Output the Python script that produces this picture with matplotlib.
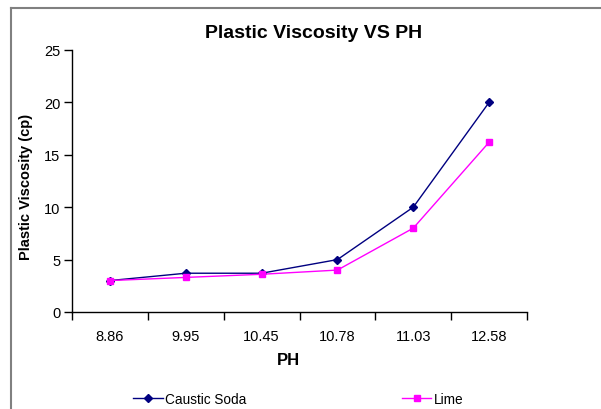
import matplotlib.pyplot as plt
from matplotlib.lines import Line2D

plt.rcParams['font.family'] = ['Liberation Sans', 'DejaVu Sans']

ph = ['8.86', '9.95', '10.45', '10.78', '11.03', '12.58']
caustic_soda = [3.0, 3.7, 3.7, 5.0, 10.0, 20.0]
lime = [3.0, 3.3, 3.6, 4.0, 8.0, 16.2]

fig = plt.figure(figsize=(6.01, 4.10), dpi=100)
ax = fig.add_axes([72 / 601, 1 - 313 / 410, 455 / 601, 262 / 410])

x = range(len(ph))
ax.plot(x, caustic_soda, color='#000080', marker='D', markersize=4.5, lw=1, label='Caustic Soda')
ax.plot(x, lime, color='#FF00FF', marker='s', markersize=5, lw=1, label='Lime')

ax.set_xlim(-0.5, len(ph) - 0.5)
ax.set_ylim(0, 25)
ax.set_yticks([0, 5, 10, 15, 20, 25])
ax.set_xticks([i - 0.5 for i in range(len(ph) + 1)])
ax.set_xticklabels([])
ax.set_xticks(list(x), minor=True)
ax.set_xticklabels(ph, minor=True)
ax.tick_params(axis='x', which='major', length=6, width=1, direction='out')
ax.tick_params(axis='x', which='minor', length=0, pad=12, labelsize=10.5)
ax.tick_params(axis='y', length=6, width=1, direction='out', pad=2.5, labelsize=10.5)
for s in ['top', 'right']:
    ax.spines[s].set_visible(False)
for s in ['left', 'bottom']:
    ax.spines[s].set_linewidth(1)

fig.text(314 / 601, 1 - 33 / 410, 'Plastic Viscosity VS PH', ha='center', va='center',
         fontsize=14, fontweight='bold')
fig.text(288 / 601, 1 - 361 / 410, 'PH', ha='center', va='center', fontsize=12, fontweight='bold')
fig.text(26 / 601, 1 - 187 / 410, 'Plastic Viscosity (cp)', ha='center', va='center',
         rotation=90, fontsize=10.5, fontweight='bold')

fig.legend(loc='center left', bbox_to_anchor=(133 / 601, 1 - 400 / 410), ncol=2, frameon=False,
           fontsize=9.8, handlelength=2.2, handletextpad=0.15, columnspacing=11.4,
           borderpad=0, borderaxespad=0, markerscale=0.9)

# chart area border (cut off on the right and bottom)
fig.add_artist(Line2D([11 / 601, 1], [1 - 9 / 410, 1 - 9 / 410], color='#808080', lw=1.5))
fig.add_artist(Line2D([11 / 601, 11 / 601], [0, 1 - 9 / 410], color='#808080', lw=1.5))

fig.savefig('out.png', dpi=100)
